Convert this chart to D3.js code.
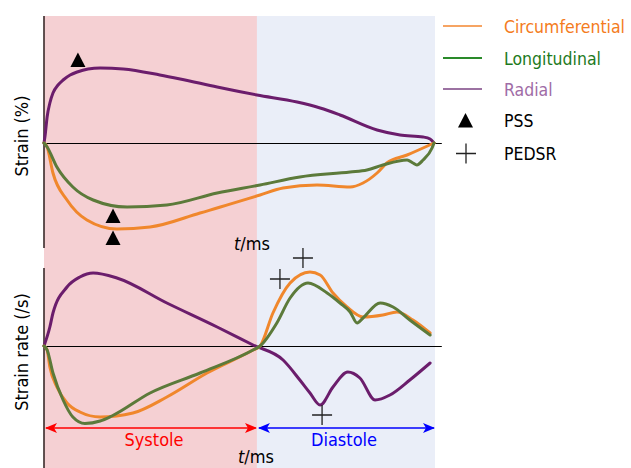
<!DOCTYPE html>
<html>
<head>
<meta charset="utf-8">
<script src="https://cdn.jsdelivr.net/npm/d3@7"></script>
<style>
  html, body { margin: 0; padding: 0; background: #fff; }
  svg { display: block; font-family: "DejaVu Sans Condensed", "DejaVu Sans", sans-serif; }
</style>
</head>
<body>
<svg id="chart" width="631" height="468"></svg>
<script>
// time is % of the cardiac cycle, strain in %, strain rate in 1/s
const phaseNames = ['Systole', 'Diastole'];
const phaseBounds = [0, 54.6, 100];

const strainCircT = [0, 0.8, 2.3, 5.9, 11, 18.7, 27.2, 40, 55.4, 61.3, 70, 78.5, 81.8, 85.4, 87.9, 93.1, 100];
const strainCirc  = [0, -1.6, -12, -22.8, -30.8, -34.4, -33.6, -28, -20.8, -18, -16.8, -17.6, -16, -12, -8, -4.8, 0];

const strainLongT = [0, 0.8, 3.3, 7.4, 12.6, 21.3, 31.5, 44.4, 55.4, 65.6, 78.5, 82.8, 86.9, 93.1, 94.6, 95.6, 97.2, 99.5, 100];
const strainLong  = [0, -1.6, -9.6, -17.6, -22.8, -25.6, -24.8, -20, -16.8, -13.6, -11.6, -10.8, -8.8, -6.8, -8, -8.8, -6.8, -2, 0];

const strainRadT = [0, 0.3, 0.8, 1.5, 2.3, 3.6, 4.9, 6.7, 8.5, 11.3, 14.4, 20.3, 29.7, 34.9, 44.4, 54.6, 64.9, 70.8, 75.9, 85.4, 91.3, 97.2, 99, 100];
const strainRad  = [0, 3.2, 10.4, 16, 20, 23.2, 25.2, 27.2, 28.4, 29.6, 30, 29.6, 27.2, 25.6, 22.4, 19.2, 16.4, 14, 11.2, 5.2, 3.2, 2.4, 1.6, 0];

const rateCircT = [0, 0.8, 1.5, 3.3, 5.9, 9.2, 14.4, 22.8, 31.5, 41.8, 53.6, 55.4, 58.7, 63.1, 68.2, 70.8, 74.1, 77.7, 81.8, 86.9, 90.5, 94.6, 99];
const rateCirc  = [0, -0.08, -0.42, -0.82, -1.14, -1.32, -1.42, -1.34, -1.02, -0.54, -0.08, 0, 0.66, 1.26, 1.48, 1.42, 1.06, 0.78, 0.58, 0.62, 0.68, 0.52, 0.26];

const rateLongT = [0, 0.8, 2.3, 4.9, 7.4, 10.5, 14.4, 17.4, 27.2, 40, 53.6, 55.4, 59.7, 63.1, 67.7, 72.6, 75.9, 78.5, 80.3, 81.8, 86.2, 89.5, 93.8, 99];
const rateLong  = [0, -0.08, -0.54, -1.08, -1.42, -1.55, -1.5, -1.4, -0.94, -0.54, -0.08, 0, 0.46, 0.96, 1.26, 1.06, 0.86, 0.68, 0.46, 0.56, 0.86, 0.78, 0.52, 0.22];

const rateRadT = [0, 1.5, 2.3, 5.9, 9.2, 12.6, 18.7, 31.5, 44.4, 53.6, 61.3, 65.6, 68.2, 70.8, 74.1, 77.9, 81, 84.9, 88.7, 93.8, 99];
const rateRad  = [0, 0.38, 0.66, 1.18, 1.38, 1.46, 1.36, 0.86, 0.38, 0.02, -0.28, -0.68, -0.94, -1.18, -0.82, -0.52, -0.64, -1.08, -0.98, -0.68, -0.34];

// peak systolic strain (triangles) and peak early diastolic strain rate (crosses)
const pssT = [8.7, 17.7, 17.7];
const pssV = [33.2, -29.2, -38];
const pedsrT = [60.5, 66.4, 71.3];
const pedsrV = [1.34, 1.76, -1.38];

const legendNames = ['Circumferential', 'Longitudinal', 'Radial', 'PSS', 'PEDSR'];

const col = {
  circ: '#f0872c', long: '#5c7a3a', rad: '#6b1d6c',
  circText: '#f47b20', longText: '#1d7a1d', radText: '#a06ca6',
  circLeg: '#f6a463', longLeg: '#2a8a2a', radLeg: '#9c72a2',
  pink: '#f5d0d3', blue: '#eaeef8'
};

const svg = d3.select('#chart');

const x = d3.scaleLinear().domain([0, 100]).range([44, 434]);
const yTop = d3.scaleLinear().domain([-42, 50.8]).range([248, 16]);
const yBot = d3.scaleLinear().domain([-2.44, 1.56]).range([468, 268]);

// phase backgrounds
svg.append('g').selectAll('rect')
  .data(phaseNames)
  .enter().append('rect')
  .attr('x', (d, i) => x(phaseBounds[i]))
  .attr('width', (d, i) => x(phaseBounds[i + 1]) - x(phaseBounds[i]) + (i ? 1 : 0))
  .attr('y', 16)
  .attr('height', 452)
  .attr('fill', (d, i) => i ? col.blue : col.pink);

// axes
svg.append('line')
  .attr('x1', x(0)).attr('x2', x(0))
  .attr('y1', yTop(50.8)).attr('y2', yTop(-42))
  .attr('stroke', '#3a2a2a').attr('stroke-width', 1.6);
svg.append('line')
  .attr('x1', x(0)).attr('x2', x(0))
  .attr('y1', yBot(1.56)).attr('y2', yBot(-2.44))
  .attr('stroke', '#3a2a2a').attr('stroke-width', 1.6);
svg.append('line')
  .attr('x1', x(0)).attr('x2', x(102))
  .attr('y1', yTop(0) + 0.5).attr('y2', yTop(0) + 0.5)
  .attr('stroke', '#000').attr('stroke-width', 1);
svg.append('line')
  .attr('x1', x(0)).attr('x2', x(102))
  .attr('y1', yBot(0) + 0.5).attr('y2', yBot(0) + 0.5)
  .attr('stroke', '#000').attr('stroke-width', 1);

const zip = (t, v) => t.map((d, i) => [d, v[i]]);

function drawCurve(t, v, y, color) {
  const line = d3.line()
    .x(d => x(d[0]))
    .y(d => y(d[1]))
    .curve(d3.curveMonotoneX);
  svg.append('path')
    .datum(zip(t, v))
    .attr('d', line)
    .attr('fill', 'none')
    .attr('stroke', color)
    .attr('stroke-width', 3)
    .attr('stroke-linecap', 'round')
    .attr('stroke-linejoin', 'round');
}

drawCurve(strainRadT, strainRad, yTop, col.rad);
drawCurve(strainCircT, strainCirc, yTop, col.circ);
drawCurve(strainLongT, strainLong, yTop, col.long);

drawCurve(rateRadT, rateRad, yBot, col.rad);
drawCurve(rateCircT, rateCirc, yBot, col.circ);
drawCurve(rateLongT, rateLong, yBot, col.long);

const triangle = (cx, cy) => `M${cx},${cy - 7.5}L${cx + 7.5},${cy + 7}L${cx - 7.5},${cy + 7}Z`;
const cross = (cx, cy) => `M${cx - 10},${cy}H${cx + 10}M${cx},${cy - 10}V${cy + 10}`;

svg.append('g').selectAll('path')
  .data(zip(pssT, pssV))
  .enter().append('path')
  .attr('d', d => triangle(x(d[0]), yTop(d[1])))
  .attr('fill', '#000');

svg.append('g').selectAll('path')
  .data(zip(pedsrT, pedsrV))
  .enter().append('path')
  .attr('d', d => cross(x(d[0]), yBot(d[1])))
  .attr('stroke', '#222').attr('stroke-width', 1.3).attr('fill', 'none');

// phase arrows
const defs = svg.append('defs');
[['arrRed', '#ff0000'], ['arrBlue', '#0000ff']].forEach(([id, c]) => {
  defs.append('marker')
    .attr('id', id)
    .attr('viewBox', '0 0 12 10')
    .attr('refX', 11).attr('refY', 5)
    .attr('markerWidth', 12).attr('markerHeight', 10)
    .attr('markerUnits', 'userSpaceOnUse')
    .attr('orient', 'auto-start-reverse')
    .append('path')
    .attr('d', 'M0,0L12,5L0,10L3,5Z')
    .attr('fill', c);
});

const arrowY = 428;
svg.append('line')
  .attr('x1', x(0) + 2).attr('x2', x(phaseBounds[1]) - 1)
  .attr('y1', arrowY).attr('y2', arrowY)
  .attr('stroke', '#ff0000').attr('stroke-width', 1.3)
  .attr('marker-start', 'url(#arrRed)').attr('marker-end', 'url(#arrRed)');
svg.append('line')
  .attr('x1', x(phaseBounds[1]) + 2).attr('x2', x(100))
  .attr('y1', arrowY).attr('y2', arrowY)
  .attr('stroke', '#0000ff').attr('stroke-width', 1.3)
  .attr('marker-start', 'url(#arrBlue)').attr('marker-end', 'url(#arrBlue)');

svg.append('text')
  .attr('x', 154).attr('y', 446)
  .attr('text-anchor', 'middle')
  .attr('font-size', 18).attr('fill', '#ff0000')
  .text(phaseNames[0]);
svg.append('text')
  .attr('x', 344).attr('y', 446)
  .attr('text-anchor', 'middle')
  .attr('font-size', 18).attr('fill', '#0000ff')
  .text(phaseNames[1]);

// axis titles
function timeLabel(cx, by) {
  const t = svg.append('text')
    .attr('x', cx).attr('y', by)
    .attr('text-anchor', 'middle')
    .attr('font-size', 18).attr('fill', '#000');
  t.append('tspan').attr('font-style', 'italic').text('t');
  t.append('tspan').text('/ms');
}
timeLabel(252, 250);
timeLabel(256, 463);

svg.append('text')
  .attr('transform', 'translate(28,136) rotate(-90)')
  .attr('text-anchor', 'middle')
  .attr('font-size', 18).attr('fill', '#000')
  .text('Strain (%)');
svg.append('text')
  .attr('transform', 'translate(28,352) rotate(-90)')
  .attr('text-anchor', 'middle')
  .attr('font-size', 18).attr('fill', '#000')
  .text('Strain rate (/s)');

// legend
const legLineColors = [col.circLeg, col.longLeg, col.radLeg];
const legTextColors = [col.circText, col.longText, col.radText, '#000', '#000'];
const legRowY = [26, 58, 89, 120.5, 153.5];

const leg = svg.append('g');
legLineColors.forEach((c, i) => {
  leg.append('line')
    .attr('x1', 443).attr('x2', 482)
    .attr('y1', legRowY[i]).attr('y2', legRowY[i])
    .attr('stroke', c).attr('stroke-width', 1.8);
});
leg.append('path').attr('d', triangle(465.5, legRowY[3])).attr('fill', '#000');
leg.append('path').attr('d', cross(466, legRowY[4]))
  .attr('stroke', '#222').attr('stroke-width', 1.3).attr('fill', 'none');

leg.selectAll('text')
  .data(legendNames)
  .enter().append('text')
  .attr('x', 504)
  .attr('y', (d, i) => legRowY[i] + 6.5)
  .attr('font-size', 17.5)
  .attr('fill', (d, i) => legTextColors[i])
  .text(d => d);
</script>
</body>
</html>
